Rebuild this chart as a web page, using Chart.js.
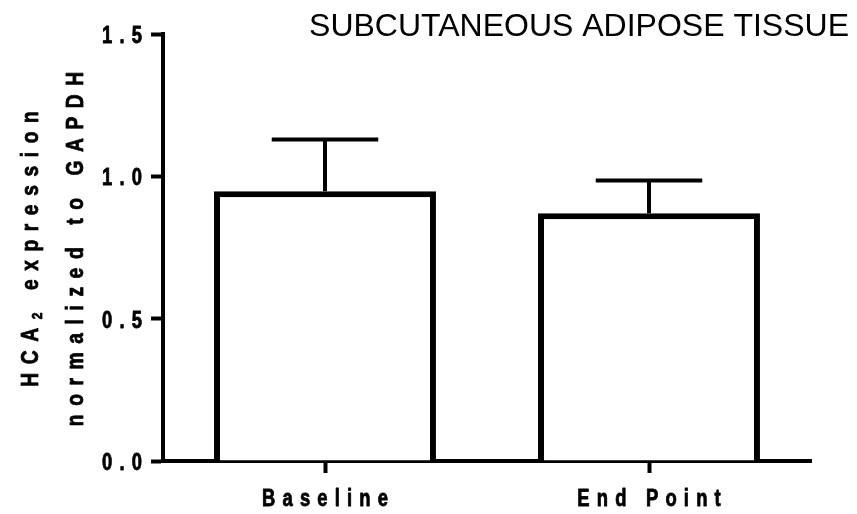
<!DOCTYPE html>
<html>
<head>
<meta charset="utf-8">
<script src="https://cdn.jsdelivr.net/npm/chart.js@4/dist/chart.umd.min.js"></script>
<style>
  html, body { margin: 0; padding: 0; background: #ffffff; }
  #wrap { width: 857px; height: 514px; position: relative; }
</style>
</head>
<body>
<div id="wrap"><canvas id="c" width="857" height="514"></canvas></div>
<script>
// ---- data ----
const categories = ['Baseline', 'End Point'];
const meanValues = [0.948, 0.870];
const semValues = [0.181, 0.115];
const yTickValues = [0.0, 0.5, 1.0, 1.5];
const yTickLabels = ['0.0', '0.5', '1.0', '1.5'];
const chartTitle = 'SUBCUTANEOUS ADIPOSE TISSUE';
const yTitleLine1 = ['HCA', '2', ' expression']; // main, subscript, rest
const yTitleLine2 = 'normalized to GAPDH';

const FONT_FAMILY = '"Liberation Sans", Arial, Helvetica, sans-serif';
const SQUEEZE = 0.8; // horizontal compression of the bold labels

// draws text in the current frame with letter spacing and horizontal squeeze
function drawSpaced(ctx, text, x, y, font, spacing, align) {
  ctx.save();
  ctx.translate(x, y);
  ctx.scale(SQUEEZE, 1);
  ctx.font = font;
  ctx.textAlign = 'left';
  ctx.letterSpacing = (spacing / SQUEEZE) + 'px';
  const wRaw = ctx.measureText(text).width - spacing / SQUEEZE;
  let off = 0;
  if (align === 'right') off = -wRaw;
  else if (align === 'center') off = -wRaw / 2;
  ctx.lineWidth = 0.8;
  ctx.strokeStyle = '#000';
  ctx.lineJoin = 'round';
  ctx.fillText(text, off, 0);
  ctx.strokeText(text, off, 0);
  ctx.restore();
  return wRaw * SQUEEZE + spacing;
}
function measureSpaced(ctx, text, font, spacing) {
  ctx.save();
  ctx.font = font;
  ctx.letterSpacing = (spacing / SQUEEZE) + 'px';
  const w = ctx.measureText(text).width * SQUEEZE;
  ctx.restore();
  return w;
}

const errorBarPlugin = {
  id: 'errorBars',
  afterDatasetsDraw(chart) {
    const ctx = chart.ctx;
    const yScale = chart.scales.y;
    const meta = chart.getDatasetMeta(0);
    ctx.save();
    ctx.strokeStyle = '#000';
    ctx.lineWidth = 4;
    ctx.lineCap = 'butt';
    meta.data.forEach((bar, i) => {
      const top = yScale.getPixelForValue(meanValues[i] + semValues[i]);
      const half = bar.width * 0.24;
      ctx.beginPath();
      ctx.moveTo(bar.x, bar.y);
      ctx.lineTo(bar.x, top);
      ctx.moveTo(bar.x - half, top);
      ctx.lineTo(bar.x + half, top);
      ctx.stroke();
    });
    ctx.restore();
  }
};

const textPlugin = {
  id: 'customText',
  afterDraw(chart) {
    const ctx = chart.ctx;
    const xScale = chart.scales.x;
    const yScale = chart.scales.y;
    ctx.save();
    ctx.fillStyle = '#000';
    ctx.textBaseline = 'alphabetic';

    // chart title
    ctx.save();
    ctx.letterSpacing = '0px';
    ctx.font = '32px ' + FONT_FAMILY;
    ctx.textAlign = 'right';
    ctx.fillText(chartTitle, 849, 36);
    ctx.restore();

    const tickFont = 'bold 23px ' + FONT_FAMILY;
    const tickSp = 7.2;
    // y tick labels
    yTickValues.forEach((v, i) => {
      const py = yScale.getPixelForValue(v);
      drawSpaced(ctx, yTickLabels[i], 142, py + 9, tickFont, tickSp, 'right');
    });
    // x tick labels
    categories.forEach((c, i) => {
      const px = xScale.getPixelForValue(i);
      drawSpaced(ctx, c, px, 506, tickFont, tickSp, 'center');
    });

    // y axis title (two rotated lines)
    const cy = 249;
    const sp = 8.6;
    const mainFont = 'bold 24px ' + FONT_FAMILY;
    const subFont = 'bold 15px ' + FONT_FAMILY;

    // line 1 with subscript
    ctx.save();
    ctx.translate(38, cy);
    ctx.rotate(-Math.PI / 2);
    const w0 = measureSpaced(ctx, yTitleLine1[0], mainFont, sp);
    const w1 = measureSpaced(ctx, yTitleLine1[1], subFont, sp);
    const w2 = measureSpaced(ctx, yTitleLine1[2], mainFont, sp);
    let x = -(w0 + w1 + w2 - sp) / 2;
    drawSpaced(ctx, yTitleLine1[0], x, 0, mainFont, sp, 'left');
    x += w0;
    drawSpaced(ctx, yTitleLine1[1], x, 4, subFont, sp, 'left');
    x += w1;
    drawSpaced(ctx, yTitleLine1[2], x, 0, mainFont, sp, 'left');
    ctx.restore();

    // line 2
    ctx.save();
    ctx.translate(83, cy);
    ctx.rotate(-Math.PI / 2);
    drawSpaced(ctx, yTitleLine2, 0, 0, mainFont, sp, 'center');
    ctx.restore();

    ctx.restore();
  }
};

const chart = new Chart(document.getElementById('c'), {
  type: 'bar',
  data: {
    labels: categories,
    datasets: [{
      data: meanValues,
      backgroundColor: '#ffffff',
      borderColor: '#000000',
      borderWidth: 6,
      borderSkipped: 'start',
      barPercentage: 0.685,
      categoryPercentage: 1.0
    }]
  },
  options: {
    responsive: false,
    animation: false,
    devicePixelRatio: 1,
    layout: { padding: { left: 0, top: 34, right: 46, bottom: 0 } },
    plugins: {
      legend: { display: false },
      title: { display: false },
      tooltip: { enabled: false }
    },
    scales: {
      x: {
        offset: true,
        grid: {
          offset: false,
          drawOnChartArea: false,
          drawTicks: true,
          tickLength: 12,
          tickWidth: 4,
          tickColor: '#000',
          color: '#000'
        },
        border: { display: true, color: '#000', width: 4 },
        ticks: { display: false },
        afterFit(scale) { scale.height = 53; }
      },
      y: {
        min: 0,
        max: 1.5,
        afterBuildTicks(scale) {
          scale.ticks = yTickValues.map(v => ({ value: v }));
        },
        grid: {
          drawOnChartArea: false,
          drawTicks: true,
          tickLength: 12,
          tickWidth: 4,
          tickColor: '#000',
          color: '#000'
        },
        border: { display: true, color: '#000', width: 4 },
        ticks: { display: false },
        afterFit(scale) { scale.width = 163; }
      }
    }
  },
  plugins: [errorBarPlugin, textPlugin]
});
</script>
</body>
</html>
